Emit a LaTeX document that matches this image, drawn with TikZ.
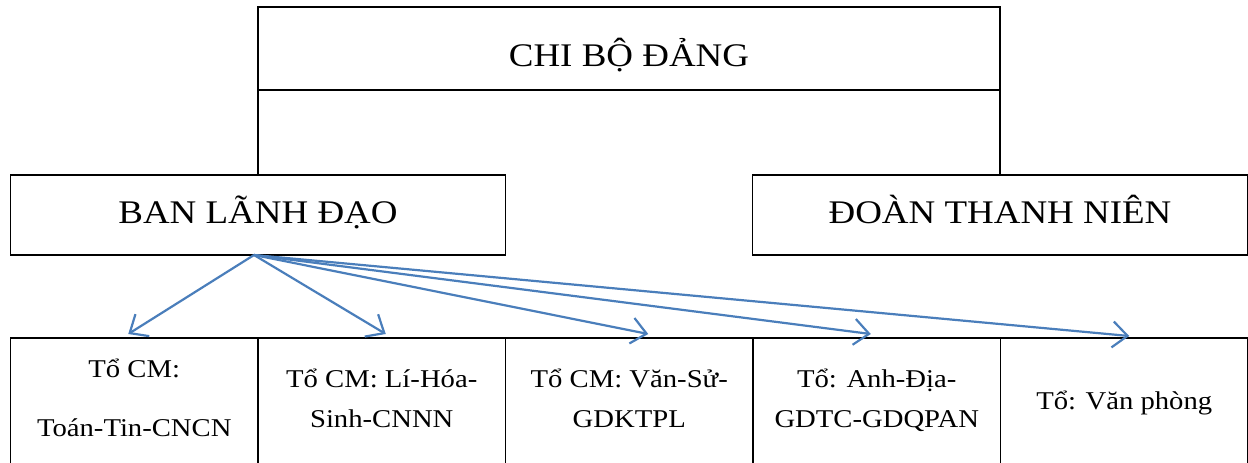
\documentclass[tikz,border=0pt]{standalone}
\usepackage{fontspec}
\setmainfont{Liberation Serif}[FakeStretch=1.12]
\usepackage{tikz}
\usetikzlibrary{positioning}
\usetikzlibrary{arrows.meta}
\definecolor{arrblue}{HTML}{4A7EBB}

\begin{document}
\begin{tikzpicture}[x=0.5pt, y=-0.5pt, node distance=0pt,
    hbox/.style={draw, line width=0.7pt, outer sep=0pt, inner sep=0pt,
        font=\fontsize{16.5}{20}\selectfont, minimum width=247.5pt,
        minimum height=40pt, text height=11pt, text depth=3pt},
    tbox/.style={draw, line width=0.6pt, outer sep=0pt, inner sep=2pt,
        font=\fontsize{12.8}{20}\selectfont, align=center,
        minimum width=123.75pt, minimum height=65pt},
    arr/.style={draw=arrblue, line width=1.1pt,
        -{Straight Barb[length=7.5pt, width=13pt]}}]
    \useasboundingbox (0,0) rectangle (1248,462);
    % top level
    \node (cb) [hbox, minimum width=371pt, minimum height=41.5pt,
        text height=20pt, text depth=2pt] at (629,48.5) {CHI BỘ ĐẢNG};
    \node (bl) [hbox, below=42.5pt of cb.south west] {BAN LÃNH ĐẠO};
    \node (dtn) [hbox, below=42.5pt of cb.south east] {ĐOÀN THANH NIÊN};
    \draw[line width=0.7pt] (cb.south west) -- (bl.north);
    \draw[line width=0.7pt] (cb.south east) -- (dtn.north);
    % row of groups
    \node (t1) [tbox, text depth=5pt, below right=41.5pt and 0pt of bl.south west]
        {Tổ CM:\\[9.5pt]Toán-Tin-CNCN};
    \node (t2) [tbox, text depth=5pt, right=of t1] {Tổ CM: Lí-Hóa-\\Sinh-CNNN};
    \node (t3) [tbox, text depth=5pt, right=of t2] {Tổ CM: Văn-Sử-\\GDKTPL};
    \node (t4) [tbox, text depth=5pt, right=of t3] {Tổ: Anh-Địa-\\GDTC-GDQPAN};
    \node (t5) [tbox, right=of t4] {Tổ: Văn phòng};
    % arrows
    \draw[arr] ([xshift=-2pt]bl.south) -- ([xshift=-3pt, yshift=2pt]t1.north);
    \draw[arr] ([xshift=-2pt]bl.south) -- ([xshift=2pt, yshift=2pt]t2.north);
    \draw[arr] ([xshift=-2pt]bl.south) -- ([xshift=9.5pt, yshift=2pt]t3.north);
    \draw[arr] ([xshift=-2pt]bl.south) -- ([xshift=-3pt, yshift=2pt]t4.north);
    \draw[arr] ([xshift=-2pt]bl.south) -- ([xshift=2.5pt, yshift=1pt]t5.north);
\end{tikzpicture}
\end{document}
